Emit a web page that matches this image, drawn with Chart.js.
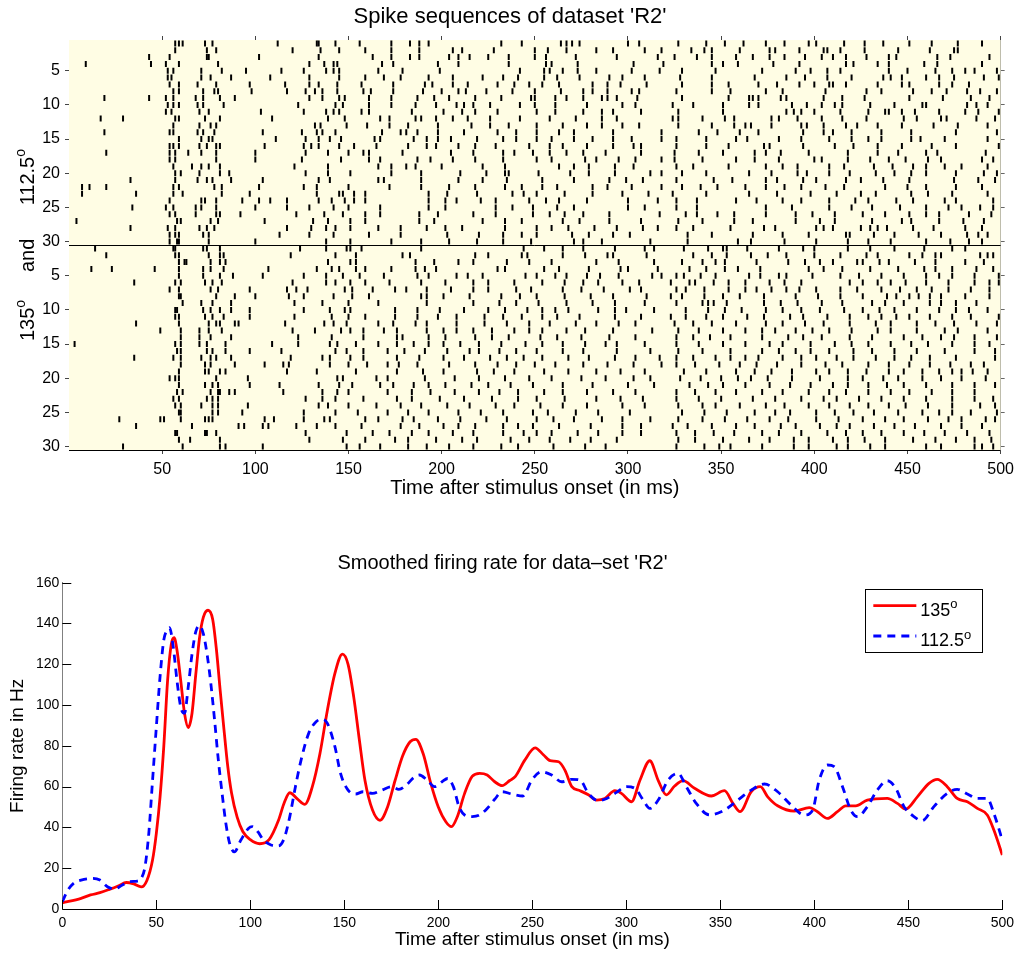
<!DOCTYPE html>
<html>
<head>
<meta charset="utf-8">
<title>Spike sequences R2</title>
<script src="https://cdn.jsdelivr.net/npm/chart.js@4.4.0/dist/chart.umd.min.js"></script>
<style>
  html, body { margin: 0; padding: 0; background: #fff; }
  #wrap { position: relative; width: 1020px; height: 953px; }
  #rasterBox { position: absolute; left: 0; top: 0; width: 1020px; height: 500px; }
  #rateBox { position: absolute; left: 0; top: 500px; width: 1020px; height: 453px; }
</style>
</head>
<body>
<div id="wrap">
  <div id="rasterBox"><canvas id="rasterChart"></canvas></div>
  <div id="rateBox"><canvas id="rateChart"></canvas></div>
</div>
<script>
const spikes1125 = [
  [57,59,61,73,77,112,133,134,143,156,173,183,188,193,232,243,264,267,270,274,300,306,327,342,352,362,374,384,397,401,416,427,437,451,463,477,490],
  [57,74,79,120,135,145,159,173,188,206,211,228,250,257,267,283,292,309,318,334,341,345,360,376,379,392,405,407,414,427,445,462,475,477],
  [43,54,74,75,102,134,163,173,183,188,204,209,215,225,236,250,256,272,294,316,325,337,345,358,367,376,384,395,404,410,417,428,440,444,466,473,494],
  [9,44,52,59,80,129,137,142,144,168,174,198,209,236,256,259,273,303,319,345,351,359,378,392,417,421,434,440,459,466,490],
  [53,56,71,82,95,114,126,138,142,145,166,179,199,242,255,258,265,273,283,302,317,329,347,372,390,398,407,414,440,450,465,474,481,486,498],
  [53,55,71,76,87,108,129,145,159,169,178,193,206,222,233,241,255,262,274,290,297,309,328,345,368,385,395,407,420,437,441,447,460,467,475,491,499],
  [54,59,69,79,97,116,129,134,144,157,174,191,195,206,214,230,239,247,254,263,281,289,296,310,329,345,354,370,380,392,400,408,410,417,434,447,451,467,474,483],
  [56,59,72,78,80,98,117,127,132,136,144,158,162,174,190,200,209,213,224,238,250,264,276,281,289,302,306,326,345,355,374,383,406,428,436,453,463,471,482,489,498],
  [19,43,52,56,68,72,81,89,129,136,145,148,161,173,187,196,204,218,232,248,250,261,267,276,286,289,294,305,329,354,365,367,370,382,385,405,415,427,451,469,484,494],
  [53,56,59,69,72,83,123,143,147,161,173,186,197,208,212,217,226,242,250,261,278,297,304,324,335,351,365,370,388,396,404,411,415,430,443,458,460,482,487,493],
  [52,55,70,75,103,126,138,142,145,157,161,184,201,211,218,230,251,261,276,286,292,307,327,351,385,389,393,400,414,429,438,440,447,454,467,481,488,499],
  [17,29,57,59,73,81,109,139,148,167,172,186,189,197,206,214,226,242,258,272,286,294,324,327,340,352,357,377,381,391,404,415,428,448,455,468,471,487,497],
  [56,70,76,79,132,135,149,160,172,182,198,216,226,236,251,265,278,286,297,306,327,345,357,363,366,377,393,396,405,417,423,434,447,464,477,493],
  [19,54,56,69,72,78,104,125,133,136,143,168,178,181,187,198,212,230,240,251,263,271,292,318,338,348,360,370,394,405,410,420,436,452,476,498],
  [59,71,75,77,111,127,134,140,146,164,167,185,192,198,205,219,233,240,251,259,271,281,292,302,318,326,342,358,364,381,393,408,420,429,436,452,457,470,493],
  [54,56,59,70,74,79,81,105,126,130,134,145,153,165,182,192,197,209,218,229,247,258,265,278,292,303,307,326,342,354,373,376,394,411,421,434,447,463,476,499],
  [20,54,57,64,71,79,100,127,139,150,158,161,179,205,217,233,239,249,258,267,276,288,307,325,338,351,368,374,382,397,418,434,445,460,466,492],
  [54,57,79,100,125,146,161,167,187,194,206,218,233,251,259,277,283,295,304,318,325,340,358,368,381,400,404,418,430,440,449,461,468,490,496],
  [56,66,71,75,81,121,139,166,173,181,186,200,222,234,263,271,279,293,303,326,335,354,374,383,391,408,416,432,442,453,460,470,479,493],
  [57,60,70,81,86,127,139,151,173,189,210,224,234,236,252,269,279,293,312,318,329,342,365,377,391,396,408,419,433,443,452,460,476,491,498],
  [33,57,69,74,77,87,104,134,140,166,169,189,209,222,235,254,271,290,299,308,326,346,356,374,380,394,401,417,425,437,451,475,488,497],
  [7,11,20,56,59,78,82,102,126,133,150,172,189,204,218,234,243,254,262,281,289,302,318,329,339,348,363,374,384,393,406,416,438,450,460,476,490],
  [7,36,56,61,82,97,133,145,147,153,159,193,203,219,238,244,251,266,281,297,311,324,342,365,380,398,412,425,433,452,461,474,493],
  [54,71,73,79,93,102,108,117,134,141,148,153,159,193,202,208,221,229,247,256,263,278,300,316,326,337,358,369,383,393,408,422,429,444,453,470,476,496],
  [34,52,56,68,71,79,100,117,129,142,150,167,193,202,229,238,249,262,271,300,309,326,337,374,388,408,420,431,446,460,472,479,489,496],
  [54,57,68,79,81,92,122,137,147,159,167,188,198,217,229,249,258,266,276,290,317,331,337,348,357,374,390,399,411,426,438,451,460,467,483,495],
  [4,58,60,76,80,105,131,139,151,159,188,196,222,234,243,265,274,290,307,327,340,357,367,390,403,411,431,447,452,467,480,491],
  [33,53,57,70,74,78,117,130,138,143,151,166,178,192,202,211,234,251,259,268,282,294,308,316,326,335,355,373,379,401,405,410,425,430,434,439,453,464,481,490],
  [54,57,59,72,75,113,129,142,161,178,203,220,233,243,251,270,279,292,301,332,345,367,383,397,417,419,432,443,456,468,482,488,493],
  [54,58,59,75,100,138,151,173,189,204,219,233,248,271,276,286,312,332,359,366,384,401,418,429,441,460,473,483,490]
];

const spikes135 = [
  [14,56,57,72,74,81,124,138,149,151,157,189,244,255,265,276,293,309,314,330,343,351,353,364,381,394,400,418,430,443,459,474,481],
  [20,57,59,75,81,83,119,143,154,179,183,218,225,243,246,265,277,289,292,310,335,345,353,366,375,385,400,414,428,434,451,458,465,468,489,493,496],
  [59,62,63,76,81,84,139,151,154,186,196,209,217,235,247,259,283,295,314,329,340,347,352,369,386,395,403,410,423,426,435,440,454,465,481,491],
  [12,23,46,59,72,76,83,107,133,141,145,154,159,173,186,191,197,230,234,255,263,279,296,300,316,333,342,352,359,371,397,405,415,430,445,459,465,474,487,496],
  [59,72,81,88,104,126,138,147,156,169,187,193,208,214,222,245,251,261,267,278,285,295,313,318,326,330,339,347,365,371,381,385,399,414,424,436,448,460,467,474,486,499],
  [35,57,60,73,77,82,120,138,143,151,159,172,189,202,217,225,239,254,266,276,284,297,306,323,333,336,346,354,363,376,384,393,419,426,434,441,449,460,472,486,494,499],
  [54,59,76,80,97,117,122,128,148,152,163,175,181,192,205,217,225,240,248,265,275,287,301,307,326,331,341,354,363,369,377,385,392,401,414,423,436,446,455,463,472,484,494],
  [59,60,79,89,100,118,126,142,152,161,189,192,201,215,232,242,251,266,280,292,310,323,329,341,351,360,373,390,402,414,426,439,444,451,456,462,468,481,494],
  [61,71,77,87,121,136,150,166,192,217,231,240,252,267,281,293,309,326,340,343,346,353,373,382,391,404,415,431,438,448,462,468,476,487],
  [57,58,72,76,81,87,97,126,140,148,151,175,187,199,212,225,234,246,254,261,268,284,293,299,314,331,343,352,361,374,383,393,403,416,426,435,443,455,467,476,483,493],
  [57,59,73,77,83,97,121,141,150,159,175,187,198,208,223,233,243,254,262,274,293,307,323,331,342,351,364,373,387,394,407,419,429,436,444,451,462,474,484,499],
  [36,59,75,79,81,89,91,116,137,142,149,166,174,186,192,208,223,235,247,258,272,283,295,304,325,335,345,358,374,383,395,405,419,433,441,455,465,475,487,498],
  [49,60,70,75,82,120,132,146,151,158,169,176,192,201,208,217,227,239,247,254,267,277,292,313,327,338,351,363,372,379,390,399,408,420,434,441,455,470,477,493],
  [60,70,76,87,123,141,158,176,179,193,202,218,227,236,253,262,275,290,304,326,335,344,355,372,386,394,404,419,431,448,458,468,475,486,498],
  [3,57,60,70,74,84,109,123,140,144,154,166,176,185,193,201,210,220,232,245,254,265,277,288,294,309,326,338,351,363,376,383,398,411,420,429,441,452,461,474,486,494],
  [58,60,74,77,84,97,114,143,149,158,171,180,191,203,215,220,231,240,251,265,276,294,312,327,340,355,372,381,390,398,408,421,431,443,455,470,486,497],
  [35,56,60,71,76,79,87,119,136,140,151,158,176,188,201,212,226,235,244,254,268,279,293,304,317,326,335,347,355,363,370,383,393,401,412,421,433,443,452,462,476,497],
  [60,73,76,89,105,115,118,140,150,160,171,177,187,204,218,230,240,250,261,276,289,303,318,326,336,349,360,369,380,393,406,415,429,440,451,462,473,484,491],
  [59,73,75,81,84,117,133,154,176,190,201,219,228,239,255,268,283,296,309,330,342,358,368,377,388,401,408,418,428,440,448,458,467,474,479,485,493],
  [54,57,59,79,96,144,147,165,171,191,207,220,234,247,259,275,288,303,312,328,339,350,359,366,375,388,403,418,426,437,445,458,468,479,492],
  [59,73,77,80,97,113,134,145,152,167,174,185,193,202,216,225,237,249,265,281,300,314,333,343,351,363,376,387,398,410,418,429,439,448,460,474,486,497],
  [58,61,76,80,81,86,89,115,136,144,150,171,184,194,207,220,231,241,255,265,278,292,304,326,336,347,358,372,383,397,408,417,429,441,451,463,474,486],
  [56,59,74,77,80,127,136,143,158,176,184,199,212,227,241,251,266,283,296,308,326,338,350,367,379,393,405,412,424,436,448,460,474,486,496],
  [57,60,71,77,80,96,134,139,150,165,178,189,203,215,229,239,253,265,278,297,309,327,340,347,360,374,384,397,408,419,429,440,449,461,474,489,497],
  [59,60,77,80,93,126,143,155,171,182,193,209,221,233,249,257,272,284,301,329,341,353,368,379,387,401,411,421,432,445,458,467,474,484,498],
  [27,49,51,60,73,75,77,105,110,126,137,140,159,166,179,185,198,210,224,235,251,260,271,286,297,312,327,340,352,364,376,386,401,413,426,438,448,461,472,479,492,497],
  [36,66,91,94,104,107,122,133,143,157,178,188,201,209,218,233,241,249,263,280,297,307,324,332,345,358,368,382,390,403,412,419,432,443,454,468,479,490],
  [57,58,73,74,79,127,149,163,172,184,193,206,217,233,244,251,259,273,284,297,307,326,336,346,357,372,381,393,407,417,426,436,448,459,470,482,494],
  [59,65,81,129,147,159,175,182,197,211,219,237,247,258,269,280,294,327,336,351,365,376,389,397,410,418,427,438,453,465,476,486,495],
  [29,61,81,84,104,149,156,167,182,192,204,217,232,241,260,277,288,326,341,349,355,372,389,397,412,418,430,438,460,468,486,490,496]
];

const rasterTicks = [5, 10, 15, 20, 25, 30];
const timeTicks = [0, 50, 100, 150, 200, 250, 300, 350, 400, 450, 500];
const rateTicks = [0, 20, 40, 60, 80, 100, 120, 140, 160];

// Smoothed firing rate (Hz), sampled along each curve
const rateTimes135 = [0,10,15,20,25,30,34,38,42,45,48,50,52,54,56,58,59.5,61,63,65,67,69,71,73,75,77.5,80,82,84,86,88,90,93,96,100,105,110,115,118,121,125,129,133,137,141,145,149,152,155,158,161,165,169,173,177,181,185,188,192,196,200,204,207,210,214,218,222,226,230,234,238,241,246,251.5,256,259.5,264,267.4,271,275.4,279.8,284.2,288.6,293.9,297.4,302.8,307.2,312.5,317,321.3,325.7,330.2,336.3,345.2,352.2,356.7,360.5,366.4,371.3,375.2,380.5,389.4,397.3,401.7,407,412.3,416.7,422,428.2,438.8,444.2,448.6,454.8,461,465.4,470.7,476,481.4,486.7,492,495.5,500];
const rate135 = [3,5.2,6.9,8,9.6,11.4,13,12.3,10.8,14,24,37,55,80,112,130,133,127,112,96,89,96,115,133,143,146.5,142,127,107,88,70,57,45,38,34,32,34,43.5,52,57,54,51.3,60,76,97.5,115.5,125,120,104,83,63,48.5,43.5,50,63,75,82,83.2,76,61.6,50,42.8,40.4,45,56.7,65,66.5,65.7,62.4,60.5,63,65,73,79,75.5,72.7,72.2,68,60,58,56,53.4,54.2,58,56.7,52.6,63,72.7,63,56,60.3,62.9,59.2,55.4,58,51.8,47.7,57.5,60,55,50.6,48,49.7,47.7,44.4,47.7,50.6,50.6,53.4,54.2,51.8,49,55,61.6,63.6,60,54.2,52.6,49.3,46.1,38.7,26.5];

const rateTimes1125 = [0,3,6,10,16,20,24,28,32,36,40,42,44,46,48,50,52,54,56,57,59,61,63,65,67,69,71,73,75,77,79,81,83,85,87,89,91.5,95,99,101,104,107,111,115,118,121,124,127,131,135,138,141,145,148,152,156,160,165,170,175,179,183,187,190,194,198,202,205,208,211,214,218,222,226,230,234,239,245,249.7,255,260.3,265.6,271,275.4,279.8,285.1,289.6,294.8,300.1,304.5,309,312.5,317,322.2,327.5,331.9,337.2,344.3,352.2,359.3,366.4,373.5,380.5,387.6,394.7,399.1,402.6,407,410.6,415,419.4,423,428.2,433.5,438.8,443.3,447.7,453,457.4,463.6,470.7,476,481.4,486.7,492,495.5,500];
const rate1125 = [3.6,9.3,12.6,14.2,15,14.2,10.9,9.8,11.8,13.4,13.7,15,20.8,37,63,89,114,132,137,138,128.6,112,99,96,109,125,136,139,135,125,110.6,92.6,73,56.7,42,32.2,28,33.8,39.5,40.4,37.9,33.8,31.4,30.9,34.6,45.3,60,73,86,91.8,93,91,79.6,66.5,58.3,56.4,57.5,56.7,58.3,60,58.7,60.8,64.5,65.7,63.2,60,62.4,64,60,50.2,46.1,45.3,46.1,49.3,53.8,57.5,56.4,55.4,63.2,67.3,65.7,62.4,63.6,63.2,56.7,53.1,54.2,57.2,60,59.2,53.4,49.3,53.4,63.2,66.5,60,51.8,46.1,48.5,53.4,58.3,61.3,57.5,51,46.1,48.5,63.2,70.6,69.8,60,48.5,45.3,50.2,58.3,62.9,59.2,50.2,45.3,43.3,50.2,56.7,58.7,56.4,54.2,54.2,46.9,33.8];

const FONT = "'Liberation Sans', Arial, Helvetica, sans-serif";
Chart.defaults.font.family = FONT;
Chart.defaults.color = '#000';

// one point per spike: x = time, y = trial row (1..60 from the top)
const rasterPoints = [];
spikes1125.forEach((row, i) => row.forEach(t => rasterPoints.push({ x: t, y: i + 1 })));
spikes135.forEach((row, i) => row.forEach(t => rasterPoints.push({ x: t, y: spikes1125.length + i + 1 })));

const rowTicks = rasterTicks.concat(rasterTicks.map(v => v + spikes1125.length));

// text with a raised small "o" like the MATLAB ^o
function supWidth(ctx, parts, size) {
  let w = 0;
  parts.forEach(([txt, sup]) => {
    ctx.font = (sup ? Math.round(size * 0.72) : size) + 'px ' + FONT;
    w += ctx.measureText(txt).width;
  });
  return w;
}
function drawSup(ctx, parts, x, y, size) {
  let cx = x;
  parts.forEach(([txt, sup]) => {
    ctx.font = (sup ? Math.round(size * 0.72) : size) + 'px ' + FONT;
    ctx.fillText(txt, cx, sup ? y - size * 0.43 : y);
    cx += ctx.measureText(txt).width;
  });
}

const plotBackground = {
  id: 'plotBackground',
  beforeDatasetsDraw(chart) {
    const { ctx, chartArea: a } = chart;
    ctx.save();
    ctx.fillStyle = '#fffde4';
    ctx.fillRect(a.left, a.top, a.right - a.left, a.bottom - a.top);
    ctx.restore();
  }
};

const panelDivider = {
  id: 'panelDivider',
  afterDatasetsDraw(chart) {
    const { ctx, chartArea: a, scales } = chart;
    const yPix = Math.round(scales.y.getPixelForValue(spikes1125.length + 0.5)) + 0.5;
    ctx.save();
    ctx.strokeStyle = '#000';
    ctx.lineWidth = 1;
    ctx.beginPath();
    ctx.moveTo(a.left, yPix);
    ctx.lineTo(a.right, yPix);
    ctx.stroke();
    ctx.restore();
  }
};

const groupLabel = {
  id: 'groupLabel',
  afterDraw(chart) {
    const { ctx, chartArea: a } = chart;
    const size = 20;
    const parts = [['135', false], ['o', true], ['     and      ', false], ['112.5', false], ['o', true]];
    ctx.save();
    ctx.fillStyle = '#000';
    ctx.textBaseline = 'alphabetic';
    const w = supWidth(ctx, parts, size);
    ctx.translate(34, (a.top + a.bottom) / 2);
    ctx.rotate(-Math.PI / 2);
    drawSup(ctx, parts, -w / 2, 0, size);
    ctx.restore();
  }
};

new Chart(document.getElementById('rasterChart'), {
  type: 'scatter',
  data: {
    datasets: [{
      data: rasterPoints,
      pointStyle: 'line',
      pointRotation: 90,
      pointRadius: 3,
      pointHoverRadius: 3,
      pointBorderWidth: 2,
      pointBorderColor: '#000',
      pointBackgroundColor: '#000'
    }]
  },
  options: {
    responsive: true,
    maintainAspectRatio: false,
    animation: false,
    events: [],
    layout: { padding: 0 },
    plugins: {
      legend: { display: false },
      tooltip: { enabled: false },
      title: {
        display: true,
        text: "Spike sequences of dataset 'R2'",
        font: { size: 22, weight: 'normal' },
        color: '#000',
        padding: { top: 4, bottom: 0 }
      }
    },
    scales: {
      x: {
        type: 'linear', position: 'bottom', min: 0, max: 500,
        afterBuildTicks: s => { s.ticks = timeTicks.filter(v => v > 0).map(v => ({ value: v })); },
        ticks: { font: { size: 16 }, padding: 6, maxRotation: 0 },
        grid: { drawOnChartArea: false, tickLength: 4, color: '#444' },
        border: { color: '#000', width: 1 },
        title: { display: true, text: 'Time after stimulus onset (in ms)', font: { size: 20 }, padding: { top: 0, bottom: 0 } },
        afterFit: s => { s.height = 50; }
      },
      xTop: {
        type: 'linear', position: 'top', min: 0, max: 500,
        afterBuildTicks: s => { s.ticks = timeTicks.filter(v => v > 0).map(v => ({ value: v })); },
        ticks: { display: false },
        grid: { drawOnChartArea: false, tickLength: 4, color: '#444' },
        border: { color: '#000', width: 1 },
        afterFit: s => { s.height = 9.6; }
      },
      y: {
        type: 'linear', position: 'left', reverse: true, min: 0.5, max: 60.5,
        afterBuildTicks: s => { s.ticks = rowTicks.map(v => ({ value: v })); },
        ticks: { font: { size: 16 }, padding: 5, callback: v => (v > spikes1125.length ? v - spikes1125.length : v) },
        grid: { drawOnChartArea: false, tickLength: 4, color: '#444' },
        border: { color: '#000', width: 1 },
        afterFit: s => { s.width = 69; }
      },
      yRight: {
        type: 'linear', position: 'right', reverse: true, min: 0.5, max: 60.5,
        afterBuildTicks: s => { s.ticks = rowTicks.map(v => ({ value: v })); },
        ticks: { display: false },
        grid: { drawOnChartArea: false, tickLength: 4, color: '#666' },
        border: { color: '#444', width: 1 },
        afterFit: s => { s.width = 17; }
      }
    }
  },
  plugins: [plotBackground, panelDivider, groupLabel]
});

const inwardTicks = {
  id: 'inwardTicks',
  afterDraw(chart) {
    const { ctx, chartArea: a, scales: { x, y } } = chart;
    ctx.save();
    ctx.strokeStyle = '#000';
    ctx.lineWidth = 1;
    x.ticks.forEach(t => {
      const px = Math.round(x.getPixelForValue(t.value)) + 0.5;
      ctx.beginPath(); ctx.moveTo(px, a.bottom); ctx.lineTo(px, a.bottom - 9); ctx.stroke();
    });
    y.ticks.forEach(t => {
      const py = Math.round(y.getPixelForValue(t.value)) + 0.5;
      ctx.beginPath(); ctx.moveTo(a.left, py); ctx.lineTo(a.left + 9, py); ctx.stroke();
    });
    ctx.restore();
  }
};

const boxedLegend = {
  id: 'boxedLegend',
  afterDraw(chart) {
    const { ctx, chartArea: a } = chart;
    const w = 117.3, h = 63.4;
    const left = a.right - 20 - w, top = a.top + 6.6;
    ctx.save();
    ctx.fillStyle = '#fff';
    ctx.fillRect(left, top, w, h);
    ctx.strokeStyle = '#000';
    ctx.lineWidth = 1;
    ctx.strokeRect(Math.round(left) + 0.5, Math.round(top) + 0.5, Math.round(w), Math.round(h));
    chart.data.datasets.forEach((ds, i) => {
      const ly = top + 16.4 + i * 30.3;
      ctx.strokeStyle = ds.borderColor;
      ctx.lineWidth = ds.borderWidth;
      ctx.setLineDash(ds.borderDash || []);
      ctx.beginPath(); ctx.moveTo(left + 8.3, ly); ctx.lineTo(left + 51.3, ly); ctx.stroke();
      ctx.setLineDash([]);
      ctx.fillStyle = '#000';
      ctx.textBaseline = 'alphabetic';
      drawSup(ctx, [[ds.label, false], ['o', true]], left + 55.3, ly + 10.3, 18);
    });
    ctx.restore();
  }
};

new Chart(document.getElementById('rateChart'), {
  type: 'line',
  data: {
    datasets: [{
      label: '135',
      data: rateTimes135.map((t, i) => ({ x: t, y: rate135[i] })),
      borderColor: '#ff0000',
      borderWidth: 2.8,
      pointRadius: 0,
      cubicInterpolationMode: 'monotone',
      fill: false,
      order: 1
    }, {
      label: '112.5',
      data: rateTimes1125.map((t, i) => ({ x: t, y: rate1125[i] })),
      borderColor: '#0000ff',
      borderWidth: 2.8,
      borderDash: [8, 6],
      pointRadius: 0,
      cubicInterpolationMode: 'monotone',
      fill: false,
      order: 0
    }]
  },
  options: {
    responsive: true,
    maintainAspectRatio: false,
    animation: false,
    events: [],
    layout: { padding: { left: 0, right: 15, top: 0, bottom: 0 } },
    plugins: {
      legend: { display: false },
      tooltip: { enabled: false },
      title: {
        display: true,
        text: "Smoothed firing rate for data\u2013set 'R2'",
        font: { size: 20, weight: 'normal' },
        color: '#000',
        padding: { top: 51, bottom: 7.7 }
      }
    },
    scales: {
      x: {
        type: 'linear', min: 0, max: 500,
        afterBuildTicks: s => { s.ticks = timeTicks.map(v => ({ value: v })); },
        ticks: { font: { size: 14 }, padding: 6, maxRotation: 0 },
        grid: { display: true, drawOnChartArea: false, drawTicks: false },
        border: { color: '#000', width: 1 },
        title: { display: true, text: 'Time after stimulus onset (in ms)', font: { size: 19 }, padding: { top: 0, bottom: 1.6 } },
        afterFit: s => { s.height = 44; }
      },
      y: {
        type: 'linear', min: 0, max: 160,
        afterBuildTicks: s => { s.ticks = rateTicks.map(v => ({ value: v })); },
        ticks: { font: { size: 14 }, padding: 3 },
        grid: { display: true, drawOnChartArea: false, drawTicks: false },
        border: { color: '#808080', width: 1 },
        title: { display: true, text: 'Firing rate in Hz', font: { size: 19 }, padding: { top: 6.6, bottom: 0 } },
        afterFit: s => { s.width = 62.3; }
      }
    }
  },
  plugins: [inwardTicks, boxedLegend]
});
</script>
</body>
</html>
